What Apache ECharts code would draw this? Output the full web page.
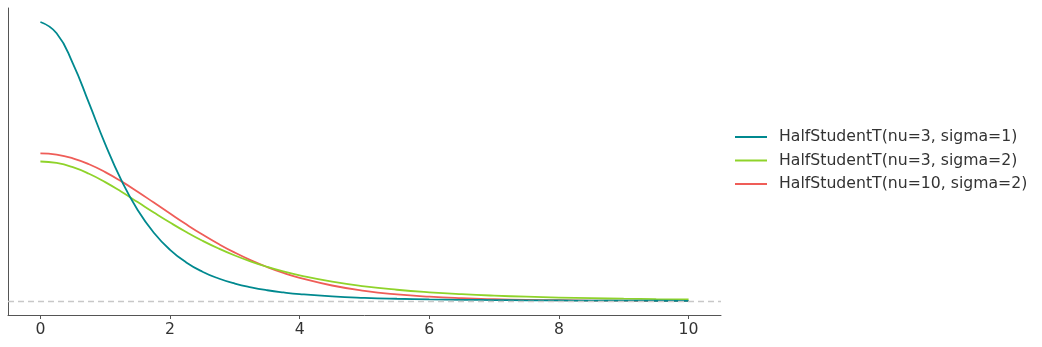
<!DOCTYPE html>
<html>
<head>
<meta charset="utf-8">
<script src="https://cdn.jsdelivr.net/npm/echarts@6/dist/echarts.min.js"></script>
<style>html,body{margin:0;padding:0;background:#fff}#c{width:1042px;height:347px}</style>
</head>
<body>
<div id="c"></div>
<script>
const xs = [0,0.25,0.5,0.75,1,1.25,1.5,1.75,2,2.25,2.5,2.75,3,3.25,3.5,3.75,4,4.5,5,5.5,6,6.5,7,7.5,8,8.5,9,9.5,10];
const nu3s1 = [0.7351,0.7054,0.6264,0.5213,0.4135,0.3178,0.2400,0.1800,0.1350,0.1018,0.0773,0.0593,0.0459,0.0360,0.0284,0.0227,0.0183,0.01224,0.00844,0.00598,0.00435,0.00323,0.00245,0.00188,0.00147,0.00117,0.00094,0.00076,0.00062];
const nu3s2 = [0.3676,0.3638,0.3527,0.3354,0.3132,0.2877,0.2607,0.2333,0.2068,0.1818,0.1589,0.1383,0.1200,0.1040,0.0900,0.0779,0.0675,0.0509,0.0387,0.0297,0.0230,0.0180,0.0142,0.0114,0.0092,0.0075,0.0061,0.0051,0.0042];
const nu10s2 = [0.3891,0.3858,0.3760,0.3603,0.3397,0.3152,0.2880,0.2593,0.2304,0.2020,0.1751,0.1501,0.1274,0.1072,0.0895,0.0742,0.0611,0.0409,0.0269,0.01757,0.01140,0.00738,0.00478,0.00311,0.00203,0.00133,0.00088,0.00059,0.00040];
const names = ['HalfStudentT(nu=3, sigma=1)','HalfStudentT(nu=3, sigma=2)','HalfStudentT(nu=10, sigma=2)'];
const colors = ['#00898f','#8fd32a','#ef5d58'];
const xTicks = [0,2,4,6,8,10];

const sets = [nu3s1, nu3s2, nu10s2];
const series = sets.map((vals, i) => ({
  name: names[i],
  type: 'line',
  smooth: true,
  symbol: 'none',
  data: xs.map((x, j) => [x, vals[j]]),
  lineStyle: {color: colors[i], width: 1.8},
  itemStyle: {color: colors[i]},
  z: 3 - i,
  markLine: i === 0 ? {
    silent: true, symbol: 'none', label: {show: false},
    lineStyle: {color: '#c8c8c8', type: [6, 4], width: 1.3},
    data: [{yAxis: 0}]
  } : undefined
}));

const chart = echarts.init(document.getElementById('c'), null, {renderer: 'canvas'});
chart.setOption({
  animation: false,
  grid: {left: 8, right: 321, top: 8, bottom: 32, containLabel: false},
  legend: {
    orient: 'vertical', left: 730, top: 123,
    icon: 'rect', itemWidth: 32, itemHeight: 2, itemGap: 5.5,
    textStyle: {fontFamily: 'DejaVu Sans', fontSize: 15.7, color: '#333', padding: [0,0,0,7], lineHeight: 18},
    data: names
  },
  xAxis: {
    type: 'value', min: -0.5, max: 10.5,
    splitLine: {show: false},
    axisLine: {onZero: false, lineStyle: {color: '#555', width: 1}},
    axisTick: {show: true, length: 4, customValues: xTicks, lineStyle: {color: '#555'}},
    axisLabel: {customValues: xTicks, fontFamily: 'DejaVu Sans', fontSize: 15.7, color: '#333', margin: 7}
  },
  yAxis: {
    type: 'value', min: -0.0368, max: 0.772,
    splitLine: {show: false},
    axisLine: {show: true, onZero: false, lineStyle: {color: '#555', width: 1}},
    axisTick: {show: false},
    axisLabel: {show: false}
  },
  series: series
});
</script>
</body>
</html>
